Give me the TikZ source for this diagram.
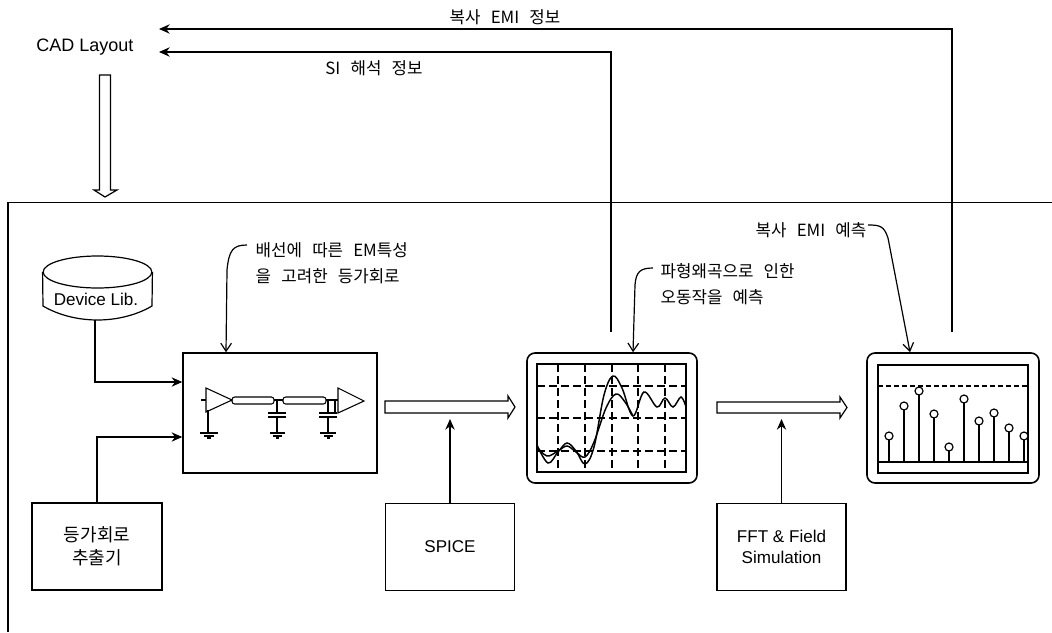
\documentclass[tikz,border=0pt]{standalone}
\usepackage{fontspec}
\setmainfont{Liberation Sans}
\newfontfamily\cjk[WordSpace=2.7]{Noto Sans CJK KR}
\usepackage{tikz}
\usetikzlibrary{calc}
\usetikzlibrary{shapes.geometric}
\usetikzlibrary{arrows.meta}
\tikzset{
  labfont/.style={font=\fontsize{12.8}{15.5}\selectfont,align=center,inner sep=0pt},
  lab/.style={font=\cjk\fontsize{12.6}{19.5}\selectfont,align=left,inner sep=0pt},
  tip/.style={-{Stealth[length=8pt,width=7pt]},line width=.9pt},
  open/.style={-{Straight Barb[length=6pt,width=8pt]},line width=.9pt},
  hollow/.style={draw,line width=.9pt,fill=white},
  blk/.style={draw,line width=1.1pt,inner sep=0pt},
  screen/.style={draw,line width=1.2pt,rounded corners=6pt,minimum width=#1,minimum height=97.5pt,inner sep=0pt},
  gnd/.style={line width=.8pt}
}
\begin{document}
\begin{tikzpicture}[x=0.75pt,y=-0.75pt,line width=1.1pt]
        \useasboundingbox (0,0) rectangle (1052,632);
        % outer frame, open on the right and the bottom
        \draw[line width=1.3pt] (1052,202.5) -- (8,202.5) -- (8,632);

        \node[labfont,font=\fontsize{13.5}{16}\selectfont] (cad) at (85,47) {CAD Layout};
        \coordinate (emiend) at (159,29);
        \coordinate (siend) at (159,52);
        \coordinate (emistart) at (952,332);
        \coordinate (sistart) at (611,332);

        % hollow arrow down
        \draw[hollow] (99.5,75) -- (110.5,75) -- (110.5,190) -- (117,190) -- (105,197) -- (94,190) -- (99.5,190) -- cycle;

        \node[lab] (emiinfo) at (505,17) {복사 EMI 정보};
        \node[lab] (siinfo) at (374,68) {SI 해석 정보};

        \draw[tip] (emistart) |- (emiend);
        \draw[tip] (sistart) |- (siend);

        % device library
        \node[draw,ellipse,line width=.9pt,minimum width=81.5pt,minimum height=24pt,inner sep=0pt] (lib) at (97.5,272) {};
        \draw[line width=.9pt] (lib.west) -- (43,306) .. controls (60,316) and (80,320) .. (97.5,320) .. controls (115,320) and (135,316) .. (152,306) -- (lib.east);
        \node[labfont] (libtext) at (96,299) {Device Lib.};
        \coordinate (libfoot) at (95,320);

        % boxes
        \node[blk,minimum width=145.5pt,minimum height=90pt] (circ) at (280,413) {};
        \node[blk,minimum width=97.5pt,minimum height=65pt,font=\cjk\fontsize{13.5}{17.5}\selectfont,align=center] (extr) at (97,546.5) {등가회로\\추출기};
        \node[blk,minimum width=97pt,minimum height=65pt,labfont] (spice) at (450,547) {SPICE};
        \node[blk,minimum width=97pt,minimum height=65pt,labfont] (fft) at (781.5,547) {FFT \& Field\\Simulation};
        \node[screen=127.5pt] (wave) at (612,418) {};
        \node[screen=129pt] (spec) at (953,418) {};

        \coordinate (in1) at (circ.west |- 0,382);
        \coordinate (in2) at (circ.west |- 0,437);
        \coordinate (spicetip) at (spice.north |- 0,419);
        \coordinate (ffttip) at (fft.north |- 0,419);
        \draw[tip] (libfoot) |- (in1);
        \draw[tip] (extr.north) |- (in2);
        \draw[tip] (spice.north) -- (spicetip);
        \draw[tip] (fft.north) -- (ffttip);

        % hollow arrows to the right
        \draw[hollow] (385,401) -- (508,401) -- (508,396) -- (515,407) -- (508,418) -- (508,413) -- (385,413) -- cycle;
        \draw[hollow] (717,402) -- (840,402) -- (840,397) -- (847,407.5) -- (840,418) -- (840,413) -- (717,413) -- cycle;

        % circuit inside the box
        \draw[gnd] (206,388) -- (206,412) -- (232,400) -- cycle;
        \draw[gnd] (338,388) -- (338,413) -- (364,401) -- cycle;
        \draw[gnd] (201,400) -- (206,400);
        \draw[gnd,rounded corners=2pt] (232,397) rectangle (274,404);
        \draw[gnd,rounded corners=2pt] (283,397) rectangle (326,404);
        \draw[gnd] (274,400) -- (283,400) (326,400) -- (338,400);
        \draw[gnd] (208,410) -- (208,433) (200,433) -- (218,433) (204,436) -- (214,436) (207,438) -- (211,438);
        \draw[gnd] (277,400) -- (277,413) (268,413) -- (286,413) (268,417) -- (286,417) (277,417) -- (277,433) (270,433) -- (285,433) (273,436) -- (282,436) (276,438) -- (279,438);
        \draw[gnd] (328,400) -- (328,413) (319,413) -- (337,413) (319,417) -- (337,417) (328,417) -- (328,433) (320,433) -- (336,433) (324,436) -- (333,436) (327,438) -- (330,438);
        \draw[gnd] (335,400) -- (335,413);

        % waveform screen
        \draw (537,364) rectangle (686,472);
        \foreach \x in {558,585,612,638,665} {
          \draw[line width=.9pt,dash pattern=on 6pt off 3pt] (\x,364) -- (\x,472);
        }
        \foreach \y in {386,418,451} {
          \draw[line width=.9pt,dash pattern=on 6pt off 3pt] (537,\y) -- (686,\y);
        }
        \draw plot[smooth,tension=.6] coordinates {(537,445) (548,463) (558,452) (567,443) (576,451) (585,464) (594,447) (604,395) (613,376) (622,388) (633,416) (644,392) (657,407) (665,398) (673,407) (681,397) (686,407)};
        \draw plot[smooth,tension=.6] coordinates {(537,447) (547,456) (558,451) (567,446) (576,452) (585,457) (594,442) (606,408) (616,394) (625,402) (633,416)};

        % spectrum screen
        \draw (878,365) rectangle (1028,473);
        \draw (878,462) -- (1028,462);
        \draw[line width=.9pt,dash pattern=on 4pt off 2pt] (878,386) -- (1028,386);
        \foreach \x/\y in {889/436,904/406,919/391,934/414,949/447,964/399,979/421,994/413,1009/428,1024/436} {
          \draw[line width=.9pt] (\x,\y) -- (\x,462);
          \draw[line width=.9pt,fill=white] (\x,\y) circle (3pt);
        }

        % notes
        \node[lab,anchor=west] (note1) at (255,263.5) {배선에 따른 EM특성\\을 고려한 등가회로};
        \node[lab,anchor=west] (note2) at (660,284.5) {파형왜곡으로 인한\\오동작을 예측};
        \node[lab,anchor=west] (note3) at (755,230) {복사 EMI 예측};

        \coordinate (leadone) at (247,245);
        \coordinate (leadtwo) at (653,268);
        \coordinate (leadthree) at (868,225);
        \draw[open] (leadone) .. controls (233,245) and (229,250) .. (227,270) -- (circ.north -| 226,0);
        \draw[open] (leadtwo) .. controls (640,268) and (636,272) .. (635,285) -- (wave.north -| 633,0);
        \draw[open] (leadthree) .. controls (880,225) and (884,226) .. (888,238) -- (spec.north -| 910,0);
\end{tikzpicture}
\end{document}
